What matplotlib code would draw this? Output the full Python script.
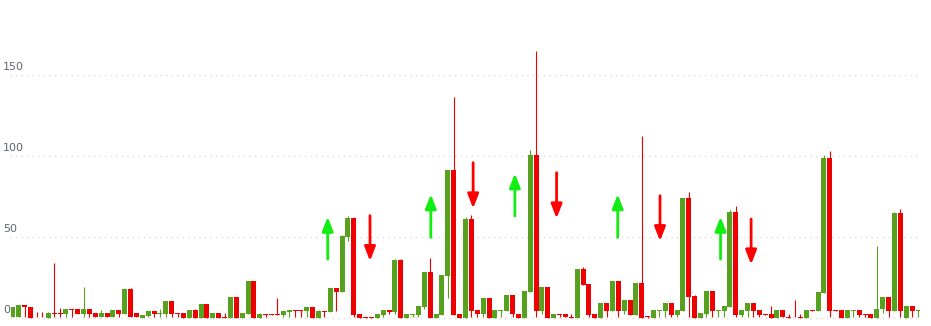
import numpy as np
import matplotlib.pyplot as plt

# candle data (open, close, high, low)
opens = [0.5, 0.5, 7.8, 7, 0.8, 0.8, 0, 3.1, 3.1, 2.7, 5.6, 5.6, 2.7, 5.6, 3.1, 0.4, 3.1, 0.4, 4.9, 2.7,
         17.9, 3.1, 0, 1.2, 4.3, 2.7, 2.7, 10.5, 3.1, 3.1, 0, 4.9, 0, 8.6, 0, 3.1, 0.8, 0, 13, 0,
         2.7, 22.8, 0, 2.5, 2.5, 2.5, 2.1, 3.9, 4.9, 4.9, 4.3, 6.8, 0, 4.3, 3.9, 18.5, 16, 50.2, 61.5, 2.5,
         0.8, 0.8, 0, 1.9, 4.9, 3.7, 35.8, 0, 1.9, 1.9, 7, 28.4, 0, 1.9, 25.9, 91.4, 2.5, 0, 60.9, 4.9,
         2.5, 12.3, 0, 4.3, 4.3, 14.2, 2.5, 0, 16.2, 100.6, 4.3, 19.1, 0, 2.5, 2.5, 0.8, 0, 30.2, 21, 2.5,
         0, 9.3, 4.3, 22.8, 4.3, 11.1, 1.9, 21.6, 1.2, 0, 4.3, 4.3, 9.3, 1.9, 4.3, 74.1, 13.6, 0, 2.5, 16.7,
         4.3, 4.3, 6.8, 65.4, 1.9, 4.3, 9.3, 4.9, 2.5, 2.5, 0, 4.9, 0.8, 0.8, 0.8, 0, 4.9, 4.3, 15.6, 98.8,
         4.9, 4.9, 0, 4.3, 4.9, 2.5, 2.5, 0, 5.6, 13, 4.3, 64.8, 0, 7.4, 4.3]
closes = [7, 8, 6.6, 0, 0.4, 0.4, 2.9, 2.7, 2.7, 5.6, 5.1, 2.7, 5.6, 2.7, 0.4, 3.1, 0.4, 4.9, 2.7, 17.9,
          0.4, 0.4, 1.9, 4.3, 2.7, 3.1, 10.5, 2.7, 2.7, 0, 4.9, 0, 8.6, 0, 3.1, 0, 0, 13, 0, 3.1,
          22.8, 0, 2.5, 1.9, 1.9, 2.1, 4.3, 4.9, 4.1, 4.1, 6.8, 0, 4.3, 3.9, 18.5, 16, 50.6, 61.5, 1.6, 0,
          0, 0, 2.5, 4.9, 3.7, 35.8, 0, 2.5, 2.5, 7.4, 28.4, 0, 2.5, 26.5, 91.4, 1.6, 0, 60.9, 4.3, 2.5,
          12.3, 0, 4.9, 4.9, 14.2, 2.5, 0, 16.7, 100.6, 4.5, 19.1, 0, 2.5, 1.9, 0.4, 0, 30.2, 20.4, 1.9, 0,
          9.3, 4.3, 22.8, 4.3, 11.1, 1.9, 21.6, 0, 0.8, 4.9, 4.9, 9.3, 1.9, 4.9, 74.1, 13.2, 0, 3.1, 16.7, 4.3,
          4.9, 7.4, 65.4, 1.6, 4.9, 9.3, 4.3, 1.9, 1.9, 0, 4.9, 0.8, 0, 0.4, 0, 4.9, 4.3, 16, 98.8, 4.3,
          4.3, 0, 4.9, 4.9, 1.9, 1.9, 0, 5.6, 13, 4.3, 64.8, 4.3, 7.4, 4.3, 4.9]
highs = [7, 8, 7.8, 7, 3.7, 3.7, 3.7, 33.7, 6.2, 5.6, 5.6, 5.6, 19.3, 5.6, 3.1, 4.9, 3.1, 4.9, 4.9, 17.9,
         18.7, 3.1, 1.9, 4.3, 4.3, 5.6, 10.5, 10.5, 3.1, 3.1, 4.9, 5.6, 8.6, 8.6, 3.1, 3.1, 3.1, 13, 13, 3.1,
         22.8, 22.8, 3.1, 2.5, 2.5, 12.6, 4.3, 4.9, 4.9, 4.9, 6.8, 6.8, 4.9, 4.3, 18.5, 18.5, 51, 63, 62.1, 2.5,
         0.8, 0.8, 2.5, 4.9, 4.9, 36.2, 36.2, 2.5, 2.5, 7.4, 28.4, 37, 2.5, 26.5, 91.4, 136.4, 2.5, 62.1, 63.6, 4.9,
         12.3, 12.3, 4.9, 4.9, 14.2, 14.2, 2.5, 16.7, 104, 164.8, 19.1, 19.1, 2.5, 2.5, 2.5, 2.5, 30.2, 31.7, 21, 2.5,
         9.3, 9.3, 22.8, 22.8, 11.1, 11.1, 21.6, 112.3, 1.2, 4.9, 4.9, 9.3, 9.3, 4.9, 74.1, 77.8, 14.2, 3.1, 16.7, 16.7,
         4.9, 7.4, 66.7, 69.1, 4.9, 9.3, 9.3, 4.9, 2.5, 7.4, 4.9, 4.9, 2.5, 11.1, 2.5, 4.9, 4.9, 16, 100.6, 103,
         4.9, 4.9, 4.9, 4.9, 4.9, 2.5, 2.5, 44.4, 13, 13, 65.4, 67.3, 7.4, 7.4, 4.9]
lows = [0.5, 0.5, 0.8, 0, 0.4, 0.4, 0, 0.8, 0.8, 0.8, 0.8, 2.7, 0.8, 0.8, 0.4, 0.4, 0.4, 0.4, 0.8, 2.7,
        0.4, 0.4, 0, 0.4, 0.8, 0.8, 0.8, 0.8, 0.8, 0, 0, 0, 0, 0, 0, 0, 0, 0, 0, 0,
        2.7, 0, 0, 0.4, 1.9, 2.1, 0.8, 0.8, 0.8, 0.8, 0.8, 0, 0, 0.8, 3.9, 4.5, 16, 47.5, 0.8, 0,
        0, 0, 0, 0.8, 2.5, 2.5, 0, 0, 0.8, 0.8, 5.3, 0, 0, 1.9, 12.6, 1.6, 0, 0, 0.8, 0.8,
        0.8, 0, 0, 0.8, 4.3, 0.8, 0, 0, 16.2, 0.8, 2.5, 0, 0, 0.4, 0.4, 0, 0, 20.4, 0.8, 0,
        0, 0.8, 4.3, 0.8, 2.5, 1.9, 1.9, 0, 0, 0, 0.8, 0.8, 0.8, 0.8, 4.3, 0.8, 0, 0, 0.8, 0.8,
        0.8, 0.8, 6.8, 0.8, 0.8, 0.8, 0.8, 0.8, 1.9, 0, 0, 0.8, 0, 0.4, 0, 0, 4.3, 4.3, 15.6, 0.8,
        4.3, 0, 0, 0.8, 0.8, 0.8, 0, 0, 3.3, 0.8, 4.3, 0.8, 0, 0.8, 0.8]

# signal arrows: position (candle index), start, end
up_x = [53.55, 71.1, 85.4, 102.9, 120.4]
up_from = [36.4, 49.8, 63, 49.8, 36.4]
up_to = [62.5, 76.4, 89.3, 76.4, 62.5]
down_x = [60.75, 78.3, 92.5, 110.1, 125.6]
down_from = [63.2, 95.9, 89.7, 75.5, 61.1]
down_to = [35.2, 67.7, 61.5, 47.5, 33.1]

yticks = [0, 50, 100, 150]

GREEN = '#57a11f'
RED = '#ee0000'

o = np.array(opens)
c = np.array(closes)
h = np.array(highs)
l = np.array(lows)
x = np.arange(len(o))
col = [GREEN if cc >= oo else RED for oo, cc in zip(o, c)]

fig = plt.figure(figsize=(9.31, 3.26), dpi=100)
ax = fig.add_axes([0, 0, 1, 1])

# grid
ax.hlines(yticks, -0.5, len(o) - 0.5, colors='#dddddd', linestyles=(0, (1, 3)), linewidth=1, zorder=0)
for t in yticks:
    ax.text(-1.65, t + 1.6, str(t), color='#5f6670', fontsize=8, ha='left', va='bottom', zorder=5)

# wicks + bodies
ax.vlines(x, l, h, colors=col, linewidth=0.8, zorder=2)
bot = np.minimum(o, c)
ht = np.maximum(np.abs(c - o), 0.5)
ax.bar(x, ht, bottom=bot, width=0.85, color=col, linewidth=0, zorder=3)

# arrows
astyle = '-|>,head_width=0.33,head_length=0.85'
for xx, a, b in zip(up_x, up_from, up_to):
    ax.annotate('', xy=(xx, b), xytext=(xx, a),
                arrowprops=dict(arrowstyle=astyle, color='#11ee11', lw=2,
                                shrinkA=0, shrinkB=0), zorder=4)
for xx, a, b in zip(down_x, down_from, down_to):
    ax.annotate('', xy=(xx, b), xytext=(xx, a),
                arrowprops=dict(arrowstyle=astyle, color='#ff0000', lw=2,
                                shrinkA=0, shrinkB=0), zorder=4)

ax.set_xlim(-13 / 5.877, len(o) - 1 + 13 / 5.877)
ax.set_ylim(-4.9, 196.3)
ax.axis('off')

plt.savefig('out.png', dpi=100)
